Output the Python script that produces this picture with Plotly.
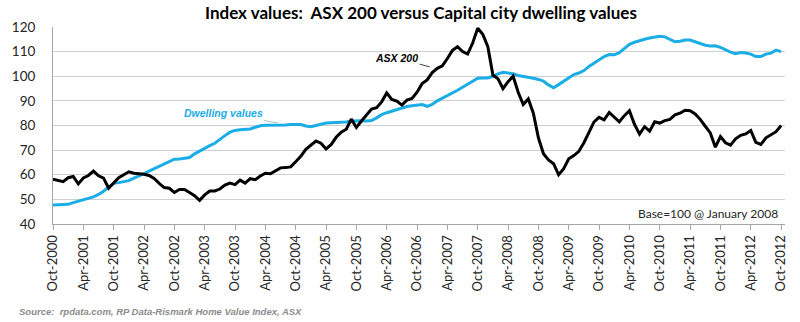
import plotly.graph_objects as go

# Monthly index values, Oct-2000 .. Oct-2012 (Base = 100 @ January 2008)
asx200 = [
    58.2, 57.8, 57.2, 58.8, 59.3, 56.3, 58.7, 59.7, 61.5, 59.6, 58.6, 54.5,
    56.8, 58.8, 60.0, 61.2, 60.6, 60.5, 60.2, 59.7, 58.5, 56.5, 54.8, 54.5,
    52.8, 54.0, 54.0, 52.8, 51.5, 49.6, 51.8, 53.4, 53.4, 54.2, 55.8, 56.6,
    56.0, 57.8, 56.6, 58.4, 58.0, 59.5, 60.6, 60.4, 61.6, 62.8, 62.9, 63.2,
    65.3, 67.5, 70.3, 72.0, 73.7, 72.8, 70.5, 72.2, 75.2, 77.3, 78.5, 82.6,
    79.2, 81.8, 84.5, 86.7, 87.2, 89.6, 93.2, 90.6, 89.9, 88.3, 90.3, 91.0,
    93.5, 97.0, 98.5, 101.5, 103.2, 104.2, 107.2, 110.5, 112.0, 110.0, 109.0, 113.5,
    119.5, 117.0, 112.0, 100.5, 99.0, 95.0, 97.8, 100.0, 93.5, 88.5, 90.8, 85.0,
    75.0, 68.5, 66.0, 64.5, 60.0, 62.5, 66.5, 67.8, 69.5, 73.0, 77.2, 81.5,
    83.3, 82.3, 85.3, 83.5, 81.5, 84.0, 86.0, 80.5, 76.5, 79.5, 77.7, 81.5,
    81.0, 82.0, 82.5, 84.3, 85.0, 86.2, 86.0, 84.7, 82.5, 79.7, 77.0, 71.2,
    75.5, 73.0, 72.0, 74.6, 76.0, 76.6, 78.0, 73.2, 72.3, 75.0, 76.3, 77.5,
    80.0,
]

dwelling = [
    47.7, 47.8, 47.7, 48.0, 48.7, 49.3, 49.9, 50.4, 51.0, 52.0, 53.3, 55.0,
    56.5, 56.8, 57.2, 57.6, 58.6, 59.7, 60.5, 61.5, 62.5, 63.5, 64.5, 65.6,
    66.3, 66.4, 66.6, 67.0, 68.5, 69.7, 70.8, 71.8, 72.8, 74.5, 75.9, 77.3,
    78.0, 78.3, 78.4, 78.6, 79.3, 79.9, 80.1, 80.1, 80.1, 80.0, 80.2, 80.4,
    80.4, 80.4, 79.8, 79.5, 80.0, 80.5, 81.0, 81.1, 81.1, 81.1, 81.4, 81.8,
    82.0, 81.9, 81.8, 82.0, 83.1, 84.4, 85.2, 85.8, 86.5, 87.2, 87.7, 88.0,
    88.3, 88.5, 87.8, 88.6, 90.0, 91.0, 92.3, 93.3, 94.3, 95.5, 96.7, 98.0,
    99.2, 99.3, 99.3, 100.0, 101.0, 101.6, 101.4, 101.0, 100.3, 100.0, 99.7, 99.2,
    98.7, 98.0, 96.5, 95.3, 96.6, 98.0, 99.5, 100.7, 101.3, 102.3, 104.0, 105.3,
    106.6, 108.0, 108.8, 108.7, 109.6, 111.2, 113.0, 113.8, 114.5, 115.0, 115.5, 115.9,
    116.2, 116.0, 115.0, 114.0, 114.2, 114.7, 114.7, 114.0, 113.2, 112.6, 112.3, 112.4,
    111.7, 110.7, 109.8, 109.2, 109.6, 109.4, 109.0, 108.0, 108.0, 109.0, 109.4, 110.6,
    110.0,
]

tick_labels = [
    "Oct-2000", "Apr-2001", "Oct-2001", "Apr-2002", "Oct-2002", "Apr-2003",
    "Oct-2003", "Apr-2004", "Oct-2004", "Apr-2005", "Oct-2005", "Apr-2006",
    "Oct-2006", "Apr-2007", "Oct-2007", "Apr-2008", "Oct-2008", "Apr-2009",
    "Oct-2009", "Apr-2010", "Oct-2010", "Apr-2011", "Oct-2011", "Apr-2012",
    "Oct-2012",
]

months = list(range(len(asx200)))
tick_pos = list(range(0, len(asx200), 6))

BLACK = "#000000"
BLUE = "#1BADE6"
BODY_FONT = "Lato"
NOTE_FONT = "Liberation Sans"

fig = go.Figure()
fig.add_trace(go.Scatter(x=months, y=dwelling, mode="lines", name="Dwelling values",
                         line=dict(color=BLUE, width=3)))
fig.add_trace(go.Scatter(x=months, y=asx200, mode="lines", name="ASX 200",
                         line=dict(color=BLACK, width=3)))

fig.update_layout(
    width=800, height=322,
    margin=dict(l=40, r=12, t=27, b=98),
    paper_bgcolor="white", plot_bgcolor="white",
    showlegend=False,
    font=dict(family=BODY_FONT, size=13, color="#262626"),
)

fig.update_xaxes(
    range=[0, 144.77],
    tickmode="array", tickvals=tick_pos, ticktext=tick_labels,
    tickangle=-90, ticks="outside", ticklen=5, tickcolor="#a6a6a6",
    showline=True, linecolor="#a6a6a6", linewidth=1,
    showgrid=False, zeroline=False,
    tickfont=dict(family=BODY_FONT, size=13, color="#262626"),
)
fig.update_yaxes(
    range=[40, 120], dtick=10, tick0=40,
    showgrid=True, gridcolor="#cfcfcf", gridwidth=1,
    showline=True, linecolor="#a6a6a6", linewidth=1,
    zeroline=False, ticks="", ticklabelstandoff=14,
    tickfont=dict(family=BODY_FONT, size=13.5, color="#262626"),
)

# Title
fig.add_annotation(
    text="<b>Index values:  ASX 200 versus Capital city dwelling values</b>",
    xref="paper", yref="paper", x=0.5027, y=1.076,
    xanchor="center", yanchor="middle", showarrow=False,
    font=dict(family=BODY_FONT, size=17, color="#000000"),
)

# Series labels with leader lines
fig.add_annotation(
    text="<b><i>ASX 200</i></b>", x=74.5, y=103.8, ax=-33, ay=-9,
    showarrow=True, arrowhead=0, arrowwidth=1, arrowcolor="#404040",
    font=dict(family=NOTE_FONT, size=10.5, color="#000000"),
)
fig.add_annotation(
    text="<b><i>Dwelling values</i></b>", x=44.5, y=81.0, ax=-55, ay=-10,
    showarrow=True, arrowhead=0, arrowwidth=1, arrowcolor="#9dc3d6",
    font=dict(family=NOTE_FONT, size=10.5, color=BLUE),
)

# Base note
fig.add_annotation(
    text="Base=100 @ January 2008",
    xref="paper", yref="paper", x=0.9933, y=0.0508,
    xanchor="right", yanchor="middle", showarrow=False,
    font=dict(family=BODY_FONT, size=12, color="#262626"),
)

# Source line
fig.add_annotation(
    text="<b><i>Source:  rpdata.com, RP Data-Rismark Home Value Index, ASX</i></b>",
    xref="paper", yref="paper", x=-0.0495, y=-0.445,
    xanchor="left", yanchor="middle", showarrow=False,
    font=dict(family=NOTE_FONT, size=9.5, color="#8c8c8c"),
)

fig.write_html("out.html")
